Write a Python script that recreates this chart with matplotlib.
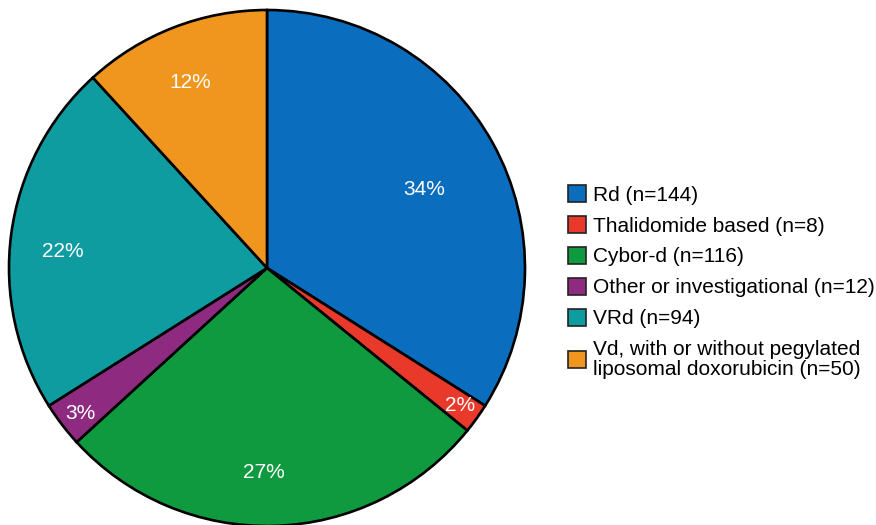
import matplotlib
matplotlib.use("Agg")
import matplotlib.pyplot as plt
from matplotlib.patches import Patch
import numpy as np

plt.rcParams['font.family'] = ['Liberation Sans', 'DejaVu Sans']

categories = ["Rd (n=144)", "Thalidomide based (n=8)", "Cybor-d (n=116)",
              "Other or investigational (n=12)", "VRd (n=94)",
              "Vd, with or without pegylated\nliposomal doxorubicin (n=50)"]
counts = [144, 8, 116, 12, 94, 50]
pct_labels = ["34%", "2%", "27%", "3%", "22%", "12%"]
colors = ["#0b6dbd", "#e8392a", "#0f9a3f", "#8e2b80", "#0e9ca1", "#f0951e"]
# label placement (polar, relative to pie radius)
label_dist = [0.681, 0.917, 0.791, 0.917, 0.793, 0.777]
label_angle = [26.7, -35.4, -90.8, -142.2, 175.5, 112.6]

W, H = 876, 525
fig = plt.figure(figsize=(W/100, H/100), dpi=100)
cx, cy, r = 267, 525-268, 258
ax = fig.add_axes([(cx-r)/W, (cy-r)/H, 2*r/W, 2*r/H])
wedges, _ = ax.pie(counts, colors=colors, startangle=90, counterclock=False,
                   radius=1, wedgeprops=dict(edgecolor='black', linewidth=1.9))
for w in wedges:
    w.set_clip_on(False)
for lab, d, a in zip(pct_labels, label_dist, label_angle):
    ang = np.deg2rad(a)
    ax.text(d*np.cos(ang), d*np.sin(ang), lab, ha='center', va='center',
            color='white', fontsize=15)
ax.set_xlim(-1, 1)
ax.set_ylim(-1, 1)
ax.axis('off')

handles = [Patch(facecolor=c, edgecolor='#222222', linewidth=1.2) for c in colors]
leg = fig.legend(handles, categories, loc='upper left',
                 bbox_to_anchor=(568/W, 1-185/H), frameon=False, fontsize=15,
                 handlelength=0.85, handleheight=0.85, handletextpad=0.34,
                 labelspacing=0.55, borderaxespad=0, borderpad=0)
for t in leg.get_texts():
    t.set_linespacing(1.05)

fig.savefig("out.png", dpi=100)
